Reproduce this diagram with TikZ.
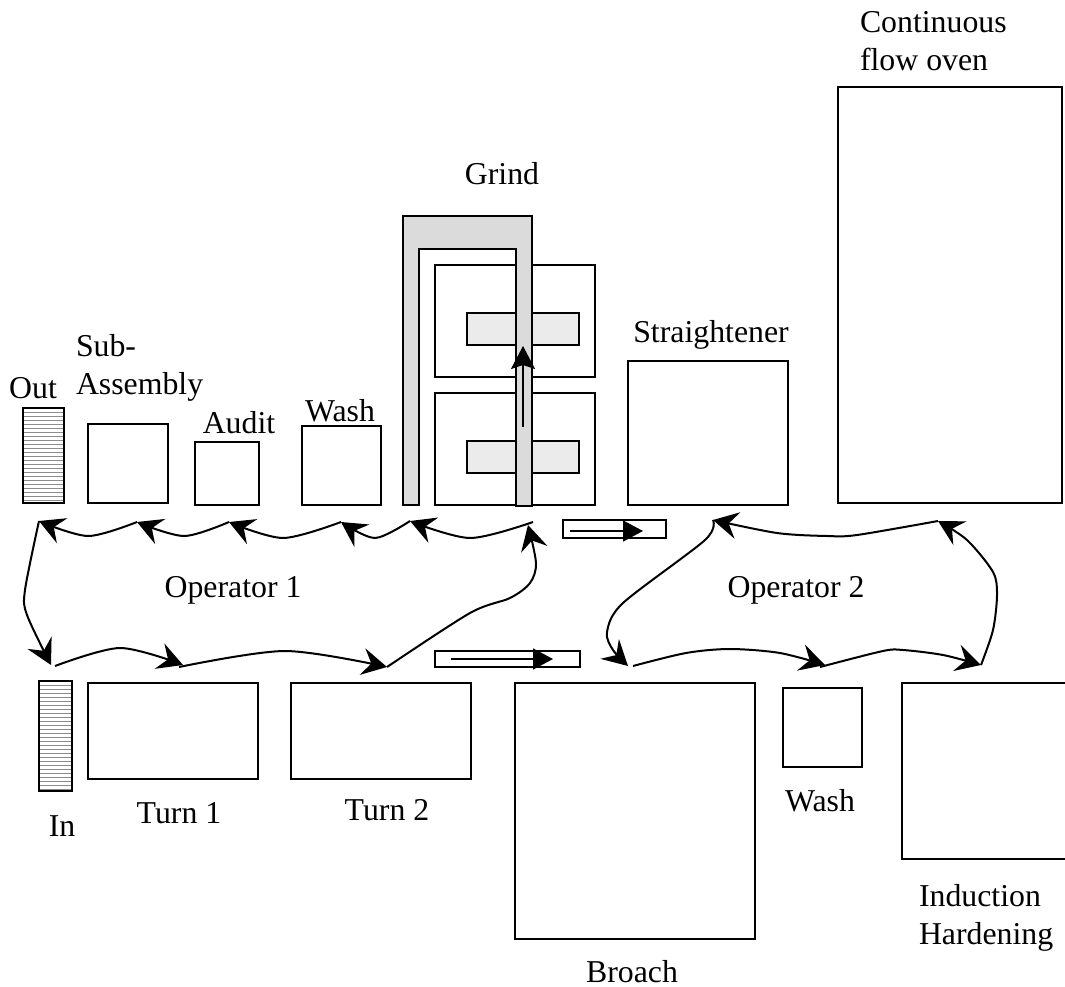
\documentclass[tikz,border=0pt]{standalone}
\usepackage{fontspec}
\setmainfont{Liberation Serif}
\usetikzlibrary{calc, positioning, arrows.meta}

\begin{document}
\begin{tikzpicture}[
  x=1pt, y=-1pt,
  font=\fontsize{31.8}{38}\selectfont,
  block/.style={draw, line width=2.2pt, anchor=north west, inner sep=0pt, outer sep=0pt},
  wheel/.style={block, fill=black!8},
  hood/.style={draw, line width=2.2pt, fill=black!14},
  hatch/.style={line width=.8pt, black!45},
  lbl/.style={inner sep=0pt, outer sep=0pt, anchor=base},
  lbltwo/.style={inner sep=0pt, outer sep=0pt, anchor=north west, align=left},
  move/.style={line width=2pt, -{Stealth[length=25pt,width=27pt,inset=9pt]}},
  feed/.style={line width=1.6pt, -{Triangle[length=20pt,width=21pt]}}
]
\useasboundingbox (0,0) rectangle (1065,987);

% Upper row of stations
\foreach \yy in {412,416,...,500} \draw[hatch] (23,\yy) -- (64,\yy);
\node[block, minimum width=41pt,  minimum height=95pt]  (out)    at (23,408)  {};
\node[block, minimum width=80pt,  minimum height=79pt]  (subasm) at (88,424)  {};
\node[block, minimum width=64pt,  minimum height=63pt]  (audit)  at (195,442) {};
\node[block, minimum width=79pt,  minimum height=79pt]  (washa)  at (302,426) {};
\node[block, minimum width=160pt, minimum height=144pt] (strt)   at (628,361) {};
\node[block, minimum width=224pt, minimum height=416pt] (oven)   at (838,87)  {};

% Grind cell
\node[block, minimum width=160pt, minimum height=112pt] (gria) at (435,265) {};
\node[block, minimum width=160pt, minimum height=112pt] (grib) at (435,393) {};
\node[wheel, minimum width=112pt, minimum height=32pt]  (whla) at (467,313) {};
\node[wheel, minimum width=112pt, minimum height=32pt]  (whlb) at (467,441) {};
\draw[hood] (403,505) -- (403,216) -- (532,216) -- (532,506) -- (516,506)
  -- (516,249) -- (419,249) -- (419,505) -- cycle;
\coordinate (grisrc) at (523,427);
\coordinate (gridst) at (523,346);
\draw[line width=2pt, -{Stealth[length=23pt,width=24pt,inset=4pt]}] (grisrc) -- (gridst);

% Conveyors
\node[block, minimum width=103pt, minimum height=18pt] (cona) at (563,520) {};
\node[block, minimum width=145pt, minimum height=16pt] (conb) at (435,651) {};
\coordinate (casrc) at (570,531);
\coordinate (cadst) at (643,531);
\coordinate (cbsrc) at (451,659);
\coordinate (cbdst) at (553,659);
\draw[feed] (casrc) -- (cadst);
\draw[feed] (cbsrc) -- (cbdst);

% Lower row of stations
\foreach \yy in {685,689,...,789} \draw[hatch] (39,\yy) -- (72,\yy);
\node[block, minimum width=33pt,  minimum height=110pt] (in)    at (39,681)  {};
\node[block, minimum width=170pt, minimum height=96pt]  (turna) at (88,683)  {};
\node[block, minimum width=180pt, minimum height=96pt]  (turnb) at (291,683) {};
\node[block, minimum width=240pt, minimum height=256pt] (brch)  at (515,683) {};
\node[block, minimum width=79pt,  minimum height=79pt]  (washb) at (783,688) {};
\node[block, minimum width=175pt, minimum height=176pt] (indh)  at (902,683) {};

% Labels
\node[lbltwo] (lbloven) at (860,11) {Continuous\\flow oven};
\node[lbl] (lblgri)  at (502,185) {Grind};
\node[lbl] (lblstr)  at (711,342) {Straightener};
\node[lbltwo] (lblsub) at (76,334) {Sub-\\Assembly};
\node[lbl] (lblout)  at (33,398) {Out};
\node[lbl] (lblaud)  at (239,433) {Audit};
\node[lbl] (lblwa)   at (340,421) {Wash};
\node[lbl] (lblopa)  at (233,597) {Operator 1};
\node[lbl] (lblopb)  at (796,597) {Operator 2};
\node[lbl] (lblin)   at (62,836) {In};
\node[lbl] (lblta)   at (179,823) {Turn 1};
\node[lbl] (lbltb)   at (387,820) {Turn 2};
\node[lbl] (lblwb)   at (820,811) {Wash};
\node[lbl] (lblbr)   at (632,982) {Broach};
\node[lbltwo] (lblind) at (919,884) {Induction\\Hardening};

% Operator 1 walk
\coordinate (oa) at (533,522);
\coordinate (ob) at (410,521);
\coordinate (oc) at (341,522);
\coordinate (od) at (229,522);
\coordinate (oe) at (137,522);
\coordinate (of) at (39,521);
\coordinate (og) at (51,665);
\coordinate (oh) at (55,666);
\coordinate (oi) at (183,665);
\coordinate (oj) at (179,667);
\coordinate (ok) at (387,667);
\coordinate (ol) at (528,525);
\draw[move] plot[smooth] coordinates {(oa) (470,538) (ob)};
\draw[move] plot[smooth] coordinates {(ob) (375,538) (oc)};
\draw[move] plot[smooth] coordinates {(oc) (283,538) (od)};
\draw[move] plot[smooth] coordinates {(od) (184,536) (oe)};
\draw[move] plot[smooth] coordinates {(oe) (88,536) (of)};
\draw[move] plot[smooth] coordinates {(of) (25,590) (27,615) (og)};
\draw[move] plot[smooth] coordinates {(oh) (120,648) (oi)};
\draw[move] plot[smooth] coordinates {(oj) (285,651) (ok)};
\draw[move] plot[smooth] coordinates {(ok) (470,613) (510,598) (530,583) (536,563) (ol)};

% Operator 2 walk
\coordinate (pa) at (633,666);
\coordinate (pb) at (825,665);
\coordinate (pc) at (820,667);
\coordinate (pd) at (981,665);
\coordinate (pe) at (938,521);
\coordinate (pf) at (713,520);
\coordinate (pg) at (628,666);
\draw[move] plot[smooth] coordinates {(pa) (686,653) (730,649) (780,653) (pb)};
\draw[move] plot[smooth] coordinates {(pc) (883,651) (903,650) (943,655) (pd)};
\draw[move] plot[smooth] coordinates {(pd) (993,630) (997,595) (993,572) (967,540) (pe)};
\draw[move] plot[smooth] coordinates {(pe) (857,535) (827,536) (777,533) (pf)};
\draw[move] plot[smooth] coordinates {(pf) (705,540) (623,603) (607,632) (613,650) (pg)};
\end{tikzpicture}
\end{document}
